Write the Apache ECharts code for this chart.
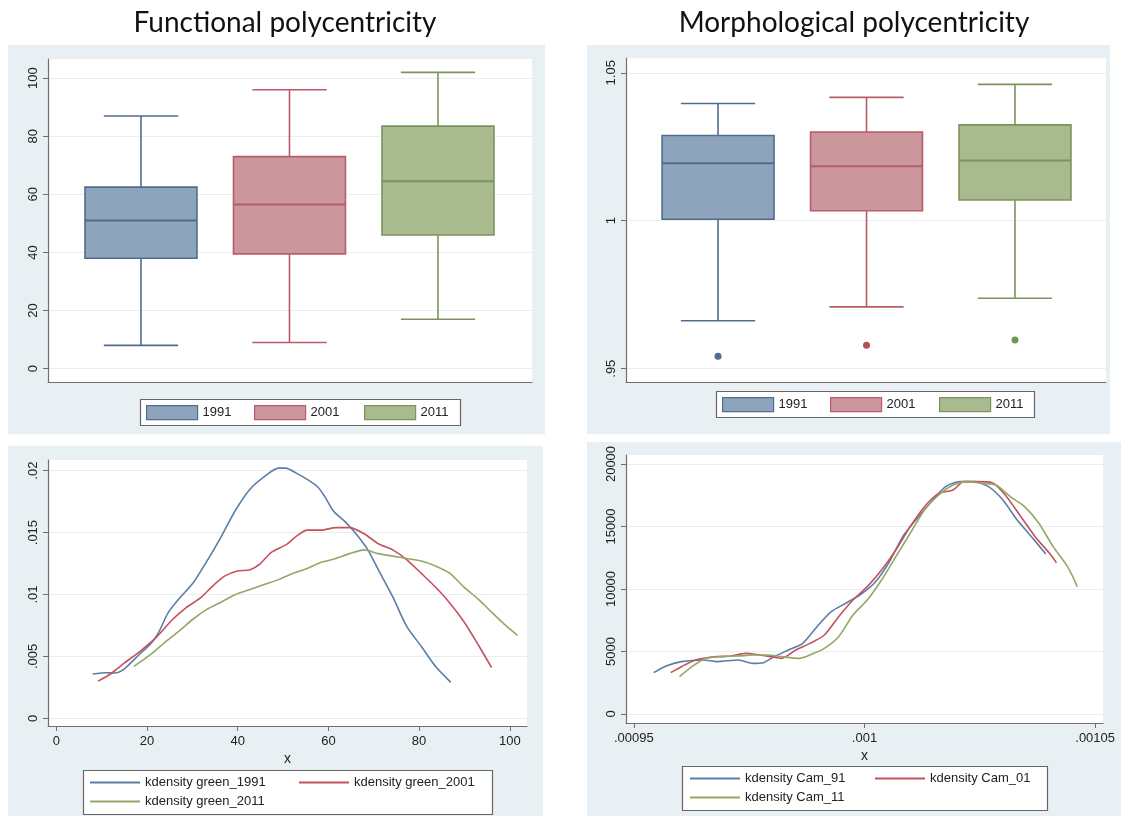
<!DOCTYPE html>
<html><head><meta charset="utf-8">
<script src="https://cdn.jsdelivr.net/npm/echarts@6/dist/echarts.min.js"></script>
<style>html,body{margin:0;padding:0;background:#fff}#c{width:1121px;height:816px}</style>
</head><body><div id="c"></div>
<script>
// ---------- DATA ----------
const years = ['1991', '2001', '2011'];
const boxPositions = [1, 2, 3];
// [lower whisker, Q1, median, Q3, upper whisker]
const funcBox1991 = [8, 38, 51, 62.5, 87];
const funcBox2001 = [9, 39.5, 56.5, 73, 96];
const funcBox2011 = [17, 46, 64.5, 83.5, 102];
const morphBox1991 = [0.9662, 1.0005, 1.0194, 1.0288, 1.0396];
const morphBox2001 = [0.9709, 1.0034, 1.0184, 1.0300, 1.0417];
const morphBox2011 = [0.9738, 1.0070, 1.0204, 1.0324, 1.0461];
const morphOutliers = [0.9542, 0.9579, 0.9597];

const funcTicks = [0, 20, 40, 60, 80, 100];
const morphTicks = [0.95, 1, 1.05];
const funcKdYTicks = [0, 0.005, 0.01, 0.015, 0.02];
const funcKdXTicks = [0, 20, 40, 60, 80, 100];
const morphKdYTicks = [0, 5000, 10000, 15000, 20000];
const morphKdXTicks = [0.00095, 0.001, 0.00105];

const kdGreen1991X = [8, 11, 13, 15, 17, 19, 21, 22.5, 24.6, 26.9, 30.1, 33.2, 36.4, 39.5, 42.7, 45.8, 49, 50.6, 52.9, 55.3, 57.6, 59.2, 61.2, 63.9, 66.3, 68.7, 71, 74.2, 77.3, 80.5, 83.6, 87];
const kdGreen1991Y = [0.00358, 0.00368, 0.00366, 0.0040, 0.0047, 0.0054, 0.0061, 0.0069, 0.0085, 0.0096, 0.0109, 0.0127, 0.0147, 0.0168, 0.0185, 0.0195, 0.0202, 0.0202, 0.0198, 0.0193, 0.0187, 0.0179, 0.0167, 0.0158, 0.0148, 0.0136, 0.0120, 0.0098, 0.0074, 0.0058, 0.0042, 0.0029];
const kdGreen2001X = [9.2, 12, 15.1, 17, 19.1, 22.2, 25.4, 28.5, 31.7, 34.8, 37.2, 39.9, 42.7, 45, 47.4, 50.6, 52.9, 55.3, 58.4, 61.6, 64.7, 67.9, 71, 74.2, 77.3, 80.5, 83.6, 86.8, 89.9, 93.1, 96];
const kdGreen2001Y = [0.0030, 0.0036, 0.0045, 0.0050, 0.0056, 0.0066, 0.0079, 0.0089, 0.0097, 0.0108, 0.0115, 0.0119, 0.0120, 0.0125, 0.0134, 0.0140, 0.0147, 0.0152, 0.0152, 0.0154, 0.0154, 0.0149, 0.0141, 0.0136, 0.0128, 0.0117, 0.0106, 0.0093, 0.0078, 0.0059, 0.0041];
const kdGreen2011X = [17.1, 20.6, 23.8, 26.9, 30.1, 33.2, 36.4, 39.5, 42.7, 45.8, 49, 52.1, 55.3, 58.4, 61.6, 64.7, 67.9, 71, 74.2, 77.3, 80.5, 83.6, 86.8, 89.9, 93.1, 96.2, 99.4, 101.7];
const kdGreen2011Y = [0.0042, 0.0051, 0.0061, 0.0070, 0.0080, 0.0088, 0.0094, 0.0100, 0.0104, 0.0108, 0.0112, 0.0117, 0.0121, 0.0126, 0.0129, 0.0133, 0.0136, 0.0133, 0.0131, 0.0129, 0.0127, 0.0123, 0.0117, 0.0106, 0.0096, 0.0085, 0.0074, 0.0067];

const kdCam91X = [0.0009543, 0.000957, 0.0009603, 0.000965, 0.000968, 0.0009727, 0.0009758, 0.0009781, 0.0009804, 0.0009835, 0.0009866, 0.0009897, 0.0009928, 0.0009959, 0.000999, 0.0010021, 0.0010052, 0.0010083, 0.0010114, 0.0010145, 0.0010176, 0.0010207, 0.0010238, 0.0010269, 0.00103, 0.0010331, 0.0010362, 0.0010393];
const kdCam91Y = [3307, 3840, 4187, 4320, 4187, 4320, 4053, 4107, 4587, 5120, 5653, 6987, 8187, 8853, 9520, 10453, 12053, 14187, 15653, 16987, 18187, 18587, 18587, 18187, 17120, 15520, 14187, 12800];
const kdCam01X = [0.000958, 0.0009603, 0.0009634, 0.000968, 0.0009711, 0.0009742, 0.0009773, 0.0009797, 0.000982, 0.0009851, 0.0009882, 0.0009913, 0.0009944, 0.0009975, 0.0010006, 0.0010037, 0.0010068, 0.0010099, 0.001013, 0.0010161, 0.0010192, 0.0010215, 0.0010246, 0.0010277, 0.0010308, 0.0010339, 0.001037, 0.0010401, 0.0010416];
const kdCam01Y = [3307, 3787, 4320, 4587, 4640, 4853, 4720, 4587, 4453, 5120, 5653, 6320, 7787, 9120, 10187, 11520, 13120, 14987, 16587, 17653, 17920, 18587, 18587, 18507, 17387, 15787, 14187, 12853, 12107];
const kdCam11X = [0.0009599, 0.0009626, 0.0009657, 0.0009688, 0.0009727, 0.0009758, 0.0009789, 0.000982, 0.0009859, 0.000989, 0.0009913, 0.0009944, 0.0009975, 0.0010006, 0.0010037, 0.0010068, 0.0010099, 0.001013, 0.0010161, 0.0010192, 0.0010223, 0.0010254, 0.0010285, 0.0010316, 0.0010347, 0.0010378, 0.0010409, 0.001044, 0.0010461];
const kdCam11Y = [2987, 3787, 4453, 4587, 4640, 4720, 4720, 4587, 4453, 4853, 5253, 6187, 7920, 9120, 10720, 12587, 14453, 16320, 17520, 18320, 18587, 18453, 18320, 17387, 16587, 15253, 13387, 11787, 10187];

const funcKdNames = ['kdensity green_1991', 'kdensity green_2001', 'kdensity green_2011'];
const morphKdNames = ['kdensity Cam_91', 'kdensity Cam_01', 'kdensity Cam_11'];

// ---------- STYLE ----------
const boxFill = ['#8ea4bd', '#cb969c', '#a9ba8f'];
const boxStroke = ['#4f6d8f', '#b65d69', '#7d935c'];
const kdColor = ['#5b7ea6', '#c4525d', '#94a767'];
const outlierColor = ['#1f4a7a', '#a3222f', '#4e7d23'];
const panelBg = '#e9f0f3';
const axisColor = '#6f6f6f';
const gridColor = '#eaeef0';
const FONT = '"Liberation Sans", Arial, sans-serif';

function stripZero(v) {
  let s = String(+v.toPrecision(6));
  if (s.startsWith('0.')) s = s.slice(1);
  return s;
}
function pairs(xs, ys) { return xs.map((x, i) => [x, ys[i]]); }

function boxRenderer(boxW, capW, idx) {
  return function (params, api) {
    const x = api.value(0);
    const pMin = api.coord([x, api.value(1)]);
    const pQ1 = api.coord([x, api.value(2)]);
    const pMed = api.coord([x, api.value(3)]);
    const pQ3 = api.coord([x, api.value(4)]);
    const pMax = api.coord([x, api.value(5)]);
    const bw = api.size([boxW, 0])[0];
    const cw = api.size([capW, 0])[0];
    const stroke = boxStroke[idx];
    const ls = { stroke: stroke, lineWidth: 1.6 };
    return {
      type: 'group', children: [
        { type: 'line', shape: { x1: pMin[0], y1: pMin[1], x2: pQ1[0], y2: pQ1[1] }, style: ls },
        { type: 'line', shape: { x1: pQ3[0], y1: pQ3[1], x2: pMax[0], y2: pMax[1] }, style: ls },
        { type: 'line', shape: { x1: pMin[0] - cw / 2, y1: pMin[1], x2: pMin[0] + cw / 2, y2: pMin[1] }, style: ls },
        { type: 'line', shape: { x1: pMax[0] - cw / 2, y1: pMax[1], x2: pMax[0] + cw / 2, y2: pMax[1] }, style: ls },
        { type: 'rect', shape: { x: pQ3[0] - bw / 2, y: pQ3[1], width: bw, height: pQ1[1] - pQ3[1] },
          style: { fill: boxFill[idx], stroke: stroke, lineWidth: 1.6 } },
        { type: 'line', shape: { x1: pMed[0] - bw / 2, y1: pMed[1], x2: pMed[0] + bw / 2, y2: pMed[1] }, style: { stroke: stroke, lineWidth: 2 } }
      ]
    };
  };
}

function boxSeries(gi, stats, idx) {
  return {
    type: 'custom', name: years[idx], xAxisIndex: gi, yAxisIndex: gi,
    renderItem: boxRenderer(0.754, 0.5, idx),
    itemStyle: { color: boxFill[idx], borderColor: boxStroke[idx] },
    encode: { x: 0, y: [1, 2, 3, 4, 5] },
    data: [[boxPositions[idx]].concat(stats)]
  };
}

function lineSeries(gi, name, xs, ys, idx) {
  return {
    type: 'line', name: name, xAxisIndex: gi, yAxisIndex: gi,
    symbol: 'none', smooth: 0.25,
    lineStyle: { color: kdColor[idx], width: 1.6 },
    itemStyle: { color: kdColor[idx] },
    data: pairs(xs, ys)
  };
}

function yAxisCfg(gi, min, max, ticks) {
  return {
    type: 'value', gridIndex: gi, min: min, max: max,
    axisLine: { show: true, onZero: false, lineStyle: { color: axisColor, width: 1.2 } },
    axisTick: { show: true, length: 5, customValues: ticks, lineStyle: { color: axisColor } },
    axisLabel: { rotate: 90, margin: 8, customValues: ticks, color: '#222', fontSize: 13, fontFamily: FONT, formatter: stripZero },
    splitLine: { show: true, lineStyle: { color: gridColor, width: 1 } }
  };
}
function xBoxAxis(gi, min, max) {
  return {
    type: 'value', gridIndex: gi, min: min, max: max,
    axisLine: { show: true, onZero: false, lineStyle: { color: axisColor, width: 1.2 } },
    axisTick: { show: false }, axisLabel: { show: false }, splitLine: { show: false }
  };
}
function xKdAxis(gi, min, max, ticks, gap) {
  return {
    type: 'value', gridIndex: gi, min: min, max: max,
    name: 'x', nameLocation: 'middle', nameGap: gap,
    nameTextStyle: { color: '#222', fontSize: 14, fontFamily: FONT },
    axisLine: { show: true, onZero: false, lineStyle: { color: axisColor, width: 1.2 } },
    axisTick: { show: true, length: 5, customValues: ticks, lineStyle: { color: axisColor } },
    axisLabel: { margin: 9, customValues: ticks, color: '#222', fontSize: 13, fontFamily: FONT, formatter: stripZero },
    splitLine: { show: false }
  };
}

// One legend component per key, placed in a Stata-like legend box.
function legendKey(name, left, top, itemWidth, extra) {
  return Object.assign({
    left: left, top: top, orient: 'horizontal', padding: 0,
    itemWidth: itemWidth, itemHeight: 14, itemGap: 0,
    selectedMode: false,
    textStyle: { color: '#222', fontSize: 13, fontFamily: FONT },
    data: [name]
  }, extra || {});
}
function boxLegendKeys(lefts, top) {
  return years.map((y, i) => legendKey(null, lefts[i], top, 51, {
    data: [{ name: y, icon: 'rect', itemStyle: { color: boxFill[i], borderColor: boxStroke[i], borderWidth: 1.2 } }]
  }));
}
function kdLegendKeys(names, lefts, tops) {
  return names.map((n, i) => legendKey(n, lefts[i], tops[i], 50, { itemStyle: { opacity: 0 } }));
}
function legendFrame(x, y, w, h) {
  return { type: 'rect', z: 1, silent: true, shape: { x: x, y: y, width: w, height: h },
    style: { fill: '#fff', stroke: '#666', lineWidth: 1.2 } };
}

const option = {
  backgroundColor: '#fff',
  animation: false,
  title: [
    { text: 'Functional polycentricity', left: 285, top: 23, textAlign: 'center', textVerticalAlign: 'middle', padding: 0,
      textStyle: { fontFamily: 'Lato, "Open Sans", sans-serif', fontWeight: 'normal', fontSize: 28, color: '#111' } },
    { text: 'Morphological polycentricity', left: 854, top: 23, textAlign: 'center', textVerticalAlign: 'middle', padding: 0,
      textStyle: { fontFamily: 'Lato, "Open Sans", sans-serif', fontWeight: 'normal', fontSize: 28, color: '#111' } }
  ],
  graphic: [
    { type: 'rect', z: -10, silent: true, shape: { x: 8, y: 45, width: 537, height: 389 }, style: { fill: panelBg } },
    { type: 'rect', z: -10, silent: true, shape: { x: 587, y: 45, width: 523, height: 389 }, style: { fill: panelBg } },
    { type: 'rect', z: -10, silent: true, shape: { x: 8, y: 446, width: 535, height: 370 }, style: { fill: panelBg } },
    { type: 'rect', z: -10, silent: true, shape: { x: 587, y: 442, width: 534, height: 374 }, style: { fill: panelBg } },
    legendFrame(140.5, 399.5, 320, 26),
    legendFrame(716.5, 391.5, 318, 26),
    legendFrame(83.5, 770.5, 409, 44),
    legendFrame(682.5, 766.5, 365, 44)
  ],
  grid: [
    { left: 48, top: 59, width: 484, height: 323, show: true, backgroundColor: '#fff', borderWidth: 0 },
    { left: 626, top: 58, width: 480, height: 324, show: true, backgroundColor: '#fff', borderWidth: 0 },
    { left: 48, top: 460, width: 479, height: 266, show: true, backgroundColor: '#fff', borderWidth: 0 },
    { left: 626, top: 455, width: 477, height: 268, show: true, backgroundColor: '#fff', borderWidth: 0 }
  ],
  xAxis: [
    xBoxAxis(0, 0.374, 3.633),
    xBoxAxis(1, 0.380, 3.613),
    xKdAxis(2, -1.85, 103.8, funcKdXTicks, 26),
    xKdAxis(3, 0.0009483, 0.0010517, morphKdXTicks, 26)
  ],
  yAxis: [
    yAxisCfg(0, -4.6, 106.6, funcTicks),
    yAxisCfg(1, 0.9455, 1.055, morphTicks),
    yAxisCfg(2, -0.00062, 0.02086, funcKdYTicks),
    yAxisCfg(3, -720, 20720, morphKdYTicks)
  ],
  legend: [].concat(
    boxLegendKeys([146, 254, 364], 405),
    boxLegendKeys([722, 830, 939], 397),
    kdLegendKeys(funcKdNames, [89, 298, 89], [776, 776, 795]),
    kdLegendKeys(morphKdNames, [689, 874, 689], [772, 772, 791])
  ),
  series: [
    boxSeries(0, funcBox1991, 0),
    boxSeries(0, funcBox2001, 1),
    boxSeries(0, funcBox2011, 2),
    boxSeries(1, morphBox1991, 0),
    boxSeries(1, morphBox2001, 1),
    boxSeries(1, morphBox2011, 2),
    {
      type: 'scatter', name: 'outliers', xAxisIndex: 1, yAxisIndex: 1, symbolSize: 7,
      data: morphOutliers.map((v, i) => ({ value: [boxPositions[i], v], itemStyle: { color: outlierColor[i] } }))
    },
    lineSeries(2, funcKdNames[0], kdGreen1991X, kdGreen1991Y, 0),
    lineSeries(2, funcKdNames[1], kdGreen2001X, kdGreen2001Y, 1),
    lineSeries(2, funcKdNames[2], kdGreen2011X, kdGreen2011Y, 2),
    lineSeries(3, morphKdNames[0], kdCam91X, kdCam91Y, 0),
    lineSeries(3, morphKdNames[1], kdCam01X, kdCam01Y, 1),
    lineSeries(3, morphKdNames[2], kdCam11X, kdCam11Y, 2)
  ]
};

const chart = echarts.init(document.getElementById('c'), null, { renderer: 'canvas' });
chart.setOption(option);
</script>
</body></html>
